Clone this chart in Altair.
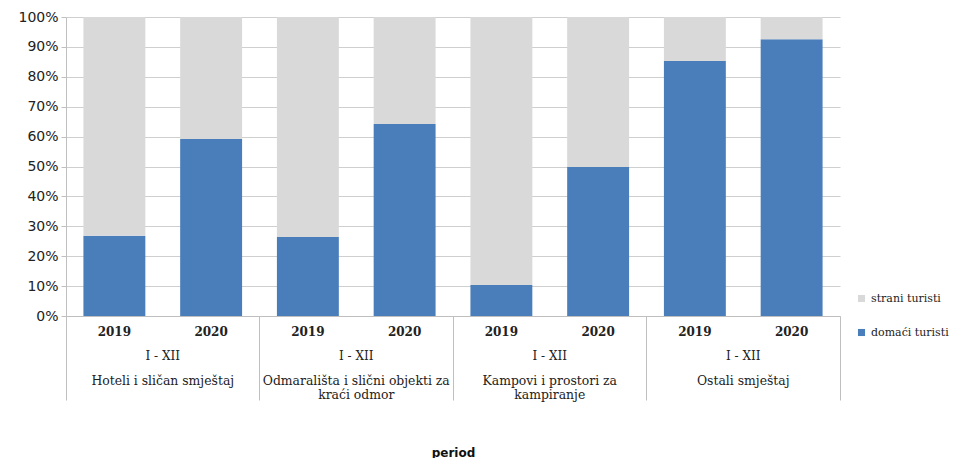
import altair as alt
import pandas as pd

groups = ["Hoteli i sličan smještaj",
          "Odmarališta i slični objekti za kraći odmor",
          "Kampovi i prostori za kampiranje",
          "Ostali smještaj"]
group_labels = ["Hoteli i sličan smještaj",
                "Odmarališta i slični objekti za\nkraći odmor",
                "Kampovi i prostori za\nkampiranje",
                "Ostali smještaj"]
years = ["2019", "2020"]
period_label = "I - XII"
series = ["strani turisti", "domaći turisti"]
colors = ["#d9d9d9", "#4a7ebb"]

# shares in percent, per group: 2019, 2020
domaci = [26.8, 59.2, 26.4, 64.2, 10.4, 49.8, 85.3, 92.6]
strani = [73.2, 40.8, 73.6, 35.8, 89.6, 50.2, 14.7, 7.4]

rows = []
i = 0
for g in groups:
    for y in years:
        rows.append({"group": g, "year": y, "series": "domaći turisti", "ord": 0, "share": domaci[i] / 100})
        rows.append({"group": g, "year": y, "series": "strani turisti", "ord": 1, "share": strani[i] / 100})
        i += 1
df = pd.DataFrame(rows)

years_df = pd.DataFrame([{"group": g, "year": y} for g in groups for y in years])
groups_df = pd.DataFrame({"group": groups, "label": group_labels, "period": [period_label] * len(groups)})

W, H = 774, 299

x_enc = alt.X("group:N", sort=groups,
              scale=alt.Scale(paddingInner=0, paddingOuter=0),
              axis=alt.Axis(labels=False, ticks=True, tickSize=84, tickColor="#bfbfbf",
                            bandPosition=1, tickExtra=True, domainColor="#bfbfbf",
                            grid=False, title="period", titleFont="DejaVu Sans",
                            titleFontSize=12, titleFontWeight="bold", titleColor="#111",
                            titleY=131, titleBaseline="top"))
xoff = alt.XOffset("year:N", sort=years, scale=alt.Scale(paddingInner=0.36, paddingOuter=0.18))

bars = alt.Chart(df).mark_bar().encode(
    x=x_enc,
    xOffset=xoff,
    y=alt.Y("share:Q", stack="zero",
            scale=alt.Scale(domain=[0, 1], nice=False),
            axis=alt.Axis(format=".0%", values=[i / 10 for i in range(11)],
                          gridColor="#cfcfcf", domainColor="#bfbfbf", tickColor="#bfbfbf",
                          tickSize=5, labelFont="DejaVu Sans", labelFontSize=14,
                          labelColor="#222", labelPadding=3, title=None)),
    color=alt.Color("series:N", scale=alt.Scale(domain=series, range=colors),
                    legend=alt.Legend(orient="none", legendX=790, legendY=276, title=None,
                                      symbolType="square", symbolSize=50, symbolStrokeWidth=0,
                                      labelFont="DejaVu Serif", labelFontSize=11,
                                      labelColor="#222", rowPadding=22, labelOffset=4,
                                      labelLimit=200)),
    order=alt.Order("ord:Q", sort="ascending"),
)

year_text = alt.Chart(years_df).mark_text(
    font="DejaVu Serif", fontSize=12, fontWeight="bold", color="#222", baseline="middle"
).encode(x=alt.X("group:N", sort=groups), xOffset=alt.XOffset("year:N", sort=years),
         y=alt.value(H + 16), text="year:N")

period_text = alt.Chart(groups_df).mark_text(
    font="DejaVu Serif", fontSize=12, color="#222", baseline="middle"
).encode(x=alt.X("group:N", sort=groups), y=alt.value(H + 40), text="period:N")

group_text = alt.Chart(groups_df).mark_text(
    font="DejaVu Serif", fontSize=12.4, color="#222", baseline="middle",
    lineBreak="\n", lineHeight=14
).encode(x=alt.X("group:N", sort=groups), y=alt.value(H + 65), text="label:N")

chart = alt.layer(bars, year_text, period_text, group_text).properties(
    width=W, height=H,
    autosize=alt.AutoSizeParams(type="none"),
    padding={"left": 58, "top": 9, "right": 119, "bottom": 142},
).configure_view(stroke=None).configure_axis(labelOverlap=False)

chart.save("out.html", embed_options={"renderer": "svg", "actions": False})
